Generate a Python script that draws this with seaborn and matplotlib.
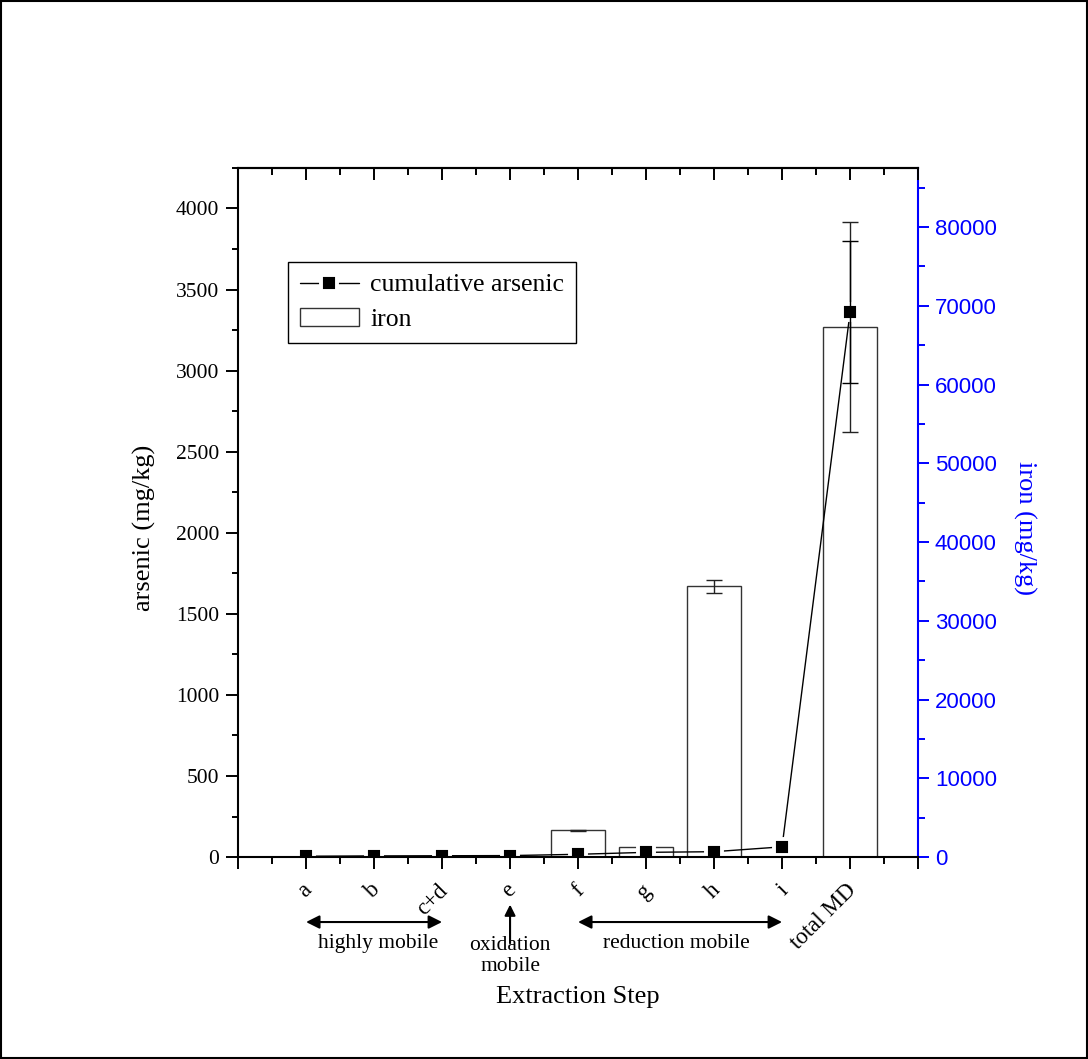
import numpy as np
import pandas as pd
import matplotlib
matplotlib.use("Agg")
import matplotlib.pyplot as plt
import matplotlib.transforms as mtransforms
from matplotlib.patches import Rectangle
from matplotlib.ticker import MultipleLocator, FixedLocator
import seaborn as sns

# ---- data ----
steps = ["a", "b", "c+d", "e", "f", "g", "h", "i", "total MD"]
step_pos = [1, 2, 3, 4, 5, 6, 7, 8, 9]
arsenic = [5, 7, 8, 9, 17, 29, 33, 63, 3359]
arsenic_err = [0, 0, 0, 0, 0, 0, 0, 0, 438]
iron = [30, 20, 50, 80, 3400, 1270, 34400, 40, 67300]
iron_err = [0, 0, 0, 0, 60, 100, 820, 0, 13300]

sns.set_theme(style="ticks")
plt.rcParams['font.family'] = ['Liberation Serif', 'DejaVu Serif']
plt.rcParams['text.color'] = 'black'
plt.rcParams['axes.labelcolor'] = 'black'
plt.rcParams['xtick.color'] = 'black'
plt.rcParams['ytick.color'] = 'black'

fig = plt.figure(figsize=(10.88, 10.59), dpi=100)
ax = fig.add_axes([0.2188, 0.1907, 0.625, 0.6507])
ax2 = ax.twinx()
ax.set_zorder(ax2.get_zorder() + 1)
ax.patch.set_visible(False)

df = pd.DataFrame({"pos": step_pos, "arsenic": arsenic, "iron": iron})

# iron bars on right axis
sns.barplot(data=df, x="pos", y="iron", native_scale=True, ax=ax2,
            color="white", saturation=1, edgecolor="#333333", linewidth=1.0,
            width=0.8, errorbar=None)
ie_x = [p for p, e in zip(step_pos, iron_err) if e > 0]
ie_y = [v for v, e in zip(iron, iron_err) if e > 0]
ie_e = [e for e in iron_err if e > 0]
ax2.errorbar(ie_x, ie_y, yerr=ie_e, fmt='none', ecolor='#222222',
             elinewidth=1.0, capsize=5.5, capthick=1.0)

# cumulative arsenic line on left axis
sns.lineplot(data=df, x="pos", y="arsenic", ax=ax, color="black",
             marker="s", markersize=11, markeredgecolor="white",
             markeredgewidth=2.8, linewidth=1.0, legend=False)
ae_x = [p for p, e in zip(step_pos, arsenic_err) if e > 0]
ae_y = [v for v, e in zip(arsenic, arsenic_err) if e > 0]
ae_e = [e for e in arsenic_err if e > 0]
ax.errorbar(ae_x, ae_y, yerr=ae_e, fmt='none', ecolor='black',
            elinewidth=1.0, capsize=5.5, capthick=1.0)

# limits
ax.set_xlim(0, 10)
ax.set_ylim(0, 4250)
ax2.set_ylim(0, 87500)

# left axis styling
ax.yaxis.set_major_locator(MultipleLocator(500))
ax.yaxis.set_minor_locator(MultipleLocator(250))
ax.tick_params(axis='y', which='major', direction='out', length=8.6, width=1.4,
               color='black', labelsize=15.5, labelcolor='black', pad=5, right=False)
ax.tick_params(axis='y', which='minor', direction='out', length=4.3, width=1.4,
               color='black', left=True, right=False)
ax.xaxis.set_major_locator(FixedLocator(list(range(0, 11))))
ax.xaxis.set_minor_locator(MultipleLocator(0.5))
ax.set_xticklabels([""] + steps + [""])
ax.tick_params(axis='x', which='major', direction='out', length=8.6, width=1.4,
               color='black', labelsize=16.5, labelcolor='black', pad=16, top=False)
ax.tick_params(axis='x', which='minor', direction='out', length=5, width=1.4,
               color='black', bottom=True, top=False)
shift = mtransforms.ScaledTranslation(0.065, 0, fig.dpi_scale_trans)
for lab in ax.get_xticklabels():
    lab.set_rotation(45)
    lab.set_ha('right')
    lab.set_va('baseline')
    lab.set_rotation_mode('anchor')
    lab.set_transform(lab.get_transform() + shift)

for s in ['left', 'bottom', 'top']:
    ax.spines[s].set_color('black')
    ax.spines[s].set_linewidth(1.5)
ax.spines['right'].set_visible(False)

# top ticks pointing inward
sec = ax.secondary_xaxis('top')
sec.set_xticks(list(range(0, 11)))
sec.xaxis.set_minor_locator(MultipleLocator(0.5))
sec.tick_params(axis='x', which='major', direction='in', length=8.6, width=1.4,
                color='black', labeltop=False)
sec.tick_params(axis='x', which='minor', direction='in', length=5, width=1.4,
                color='black')
sec.spines['top'].set_linewidth(1.5)
sec.spines['top'].set_color('black')

# right axis styling
ax2.yaxis.set_major_locator(MultipleLocator(10000))
ax2.yaxis.set_minor_locator(MultipleLocator(5000))
ax2.tick_params(axis='y', which='major', direction='out', length=8.2, width=1.4,
                color='blue', labelcolor='blue', labelsize=16, pad=4)
ax2.tick_params(axis='y', which='minor', direction='out', length=5, width=1.4,
                color='blue', right=True)
for lab in ax2.get_yticklabels():
    lab.set_family(['Liberation Sans', 'DejaVu Sans'])
ax2.spines['right'].set_color('blue')
ax2.spines['right'].set_linewidth(1.5)
for s in ['left', 'top', 'bottom']:
    ax2.spines[s].set_visible(False)

# labels
ax.set_ylabel("arsenic (mg/kg)", fontsize=19, color='black')
ax.yaxis.set_label_coords(-0.137, 0.478)
ax.yaxis.label.set_va('center')
ax2.set_ylabel("iron (mg/kg)", fontsize=19, color='blue', rotation=270)
ax2.yaxis.set_label_coords(1.156, 0.478)
ax2.yaxis.label.set_va('center')
ax.set_xlabel("Extraction Step", fontsize=19, color='black')
ax.xaxis.set_label_coords(0.5, -0.203)
ax.xaxis.label.set_va('center')

# annotations below the axis
trans = mtransforms.blended_transform_factory(ax.transData, ax.transAxes)
arrow_kw = dict(arrowstyle='<|-|>', color='black', lw=1.5, mutation_scale=20,
                shrinkA=0, shrinkB=0)
ax.annotate("", xy=(1, -0.0943), xytext=(3, -0.0943), xycoords=trans,
            textcoords=trans, arrowprops=arrow_kw, annotation_clip=False)
ax.annotate("", xy=(5, -0.0943), xytext=(8, -0.0943), xycoords=trans,
            textcoords=trans, arrowprops=arrow_kw, annotation_clip=False)
ax.annotate("", xy=(4, -0.069), xytext=(4, -0.125), xycoords=trans,
            textcoords=trans,
            arrowprops=dict(arrowstyle='-|>', color='black', lw=1.5,
                            mutation_scale=16, shrinkA=0, shrinkB=0),
            annotation_clip=False)
ax.text(2.06, -0.1248, "highly mobile", transform=trans, ha='center',
        va='center', fontsize=15.5)
ax.text(4.0, -0.1437, "oxidation\nmobile", transform=trans, ha='center',
        va='center', fontsize=15.5, linespacing=1.2)
ax.text(6.45, -0.1248, "reduction mobile", transform=trans, ha='center',
        va='center', fontsize=15.5)

# legend
handles = [ax.lines[0], ax2.patches[4]]
labels = ["cumulative arsenic", "iron"]
leg = ax.legend(handles, labels, loc='upper left',
                bbox_to_anchor=(0.0735, 0.8636), borderaxespad=0,
                fontsize=18.5, frameon=True, fancybox=False, framealpha=1,
                edgecolor='black', handlelength=2.3, handletextpad=0.45,
                borderpad=0.45, labelspacing=0.45, numpoints=1)
leg.get_frame().set_linewidth(1.0)

# figure border
fig.patches.append(Rectangle((0.001, 0.001), 0.998, 0.998, transform=fig.transFigure,
                             fill=False, edgecolor='black', linewidth=1.5))

fig.savefig("out.png", dpi=100)
